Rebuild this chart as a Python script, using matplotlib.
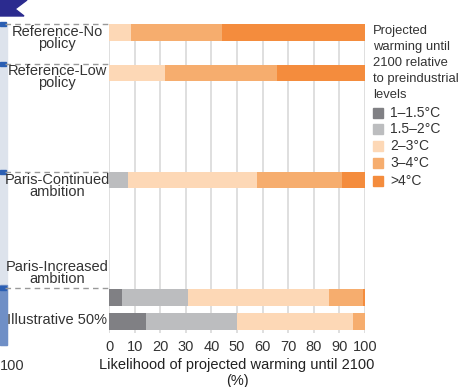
import matplotlib.pyplot as plt
from matplotlib.patches import Polygon, Rectangle
import numpy as np

plt.rcParams['font.family'] = ['Liberation Sans Narrow', 'Liberation Sans', 'DejaVu Sans']

# scenarios (top to bottom) and their row centres on the shared left panel
scenarios = ["Reference-No\npolicy", "Reference-Low\npolicy", "Paris-Continued\nambition",
             "Paris-Increased\nambition", "Illustrative 50%"]
row_y = [32.5, 72.5, 180, 297.5, 321.5]
row_h = [16.5, 16, 16, 16.5, 17]

bins = ["1\u20131.5\u00b0C", "1.5\u20132\u00b0C", "2\u20133\u00b0C", "3\u20134\u00b0C", ">4\u00b0C"]
colors = ["#808084", "#bcbdbf", "#fdd8b6", "#f6ad6e", "#f48c3d"]

# likelihood (%) of each warming bin per scenario
p_1_15 = [0, 0, 0, 4.9, 14.3]
p_15_2 = [0, 0, 7.4, 26.1, 35.6]
p_2_3 = [8.6, 21.9, 50.3, 54.8, 45.3]
p_3_4 = [35.4, 43.9, 33.3, 13.5, 4.8]
p_4 = [56.0, 34.2, 9.0, 0.7, 0]
shares = [p_1_15, p_15_2, p_2_3, p_3_4, p_4]

W, H = 462, 387
fig = plt.figure(figsize=(W / 100, H / 100), dpi=100)
ax = fig.add_axes([109 / W, 1 - 333 / H, 256 / W, 309 / H])

left = np.zeros(len(scenarios))
for vals, col, lab in zip(shares, colors, bins):
    ax.barh(row_y, vals, height=row_h, left=left, color=col, label=lab, zorder=2)
    left += np.array(vals)

ax.set_xlim(0, 100)
ax.set_ylim(333, 24)
ax.set_xticks(range(0, 101, 10))
ax.grid(axis="x", color="#dcdcdc", lw=1.3, zorder=0)
for s in ax.spines.values():
    s.set_visible(False)
ax.set_yticks([])
ax.tick_params(axis="x", length=0, labelsize=10.5, colors="#333333", pad=5)
ax.set_xlabel("Likelihood of projected warming until 2100\n(%)", fontsize=10.5,
              color="#222222", labelpad=3, linespacing=1.2)

# left-hand scenario labels and dashed leaders
label_y = [38, 77, 186, 273, 320]
dash_y = [24, 64, 172, 288]
for name, ly in zip(scenarios, label_y):
    fig.text(57 / W, 1 - ly / H, name, ha="center", va="center", fontsize=10.5,
             color="#333333", linespacing=0.85)
for dy in dash_y:
    fig.add_artist(plt.Line2D([5 / W, 108 / W], [1 - dy / H] * 2, transform=fig.transFigure,
                              color="#999999", lw=1, ls=(0, (4, 3))))

# legend
fig.text(373 / W, 1 - 25 / H, "Projected\nwarming until\n2100 relative\nto preindustrial\nlevels",
         ha="left", va="top", fontsize=9.4, color="#333333", linespacing=1.45)
leg_y = [113, 129, 146, 163, 181]
for lab, col, yy in zip(bins, colors, leg_y):
    fig.add_artist(Rectangle((373 / W, 1 - (yy + 5) / H), 10 / W, 10 / H,
                             transform=fig.transFigure, color=col))
    fig.text(390 / W, 1 - yy / H, lab, ha="left", va="center", fontsize=10, color="#333333")

# fragments of the neighbouring panel
fig.add_artist(Rectangle((0, 1 - 345 / H), 7 / W, 320 / H, transform=fig.transFigure,
                         color="#dde3ec", zorder=0))
fig.add_artist(Rectangle((0, 1 - 345 / H), 7 / W, 60 / H, transform=fig.transFigure,
                         color="#6f8fc6", zorder=0))
for dy in dash_y:
    fig.add_artist(Rectangle((0, 1 - (dy + 2) / H), 6 / W, 4 / H, transform=fig.transFigure,
                             color="#2b5fb3"))
fig.add_artist(Polygon([(0, 1), (27 / W, 1), (15 / W, 1 - 9 / H), (24 / W, 1 - 16 / H),
                        (0, 1 - 16 / H)], closed=True, transform=fig.transFigure,
                       color="#2b2b8f"))
fig.text(0, 1 - 366 / H, "100", ha="left", va="center", fontsize=10.5, color="#333333")

fig.savefig("out.png", dpi=100)
